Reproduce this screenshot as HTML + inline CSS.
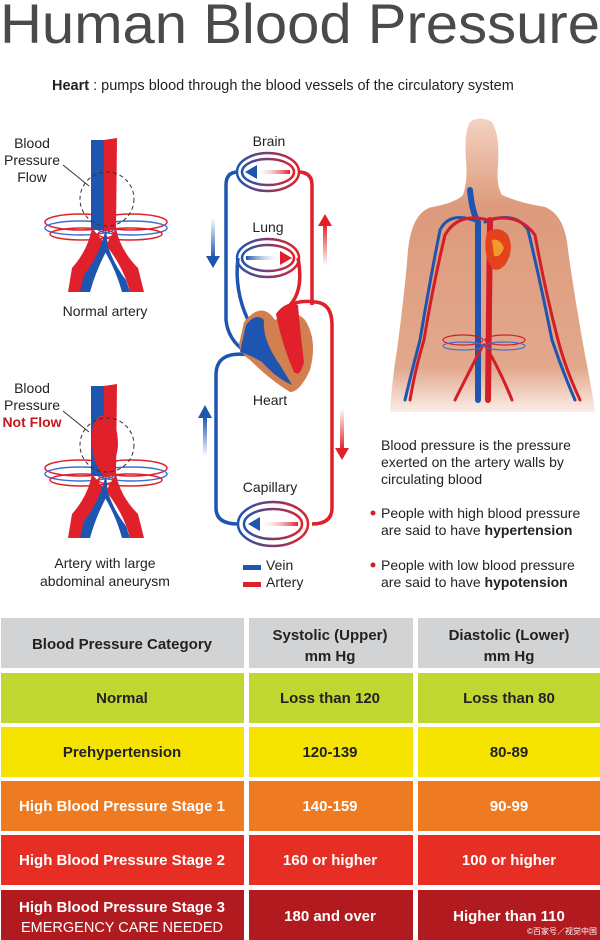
<!DOCTYPE html>
<html><head><meta charset="utf-8"><style>
html,body{margin:0;padding:0;background:#fff;}
svg{display:block;font-family:"Liberation Sans",sans-serif;}
</style></head><body>
<svg width="600" height="940" viewBox="0 0 600 940" xmlns="http://www.w3.org/2000/svg">
<defs>
<linearGradient id="rb" x1="0" x2="1"><stop offset="0" stop-color="#1e55b0"/><stop offset="1" stop-color="#e0212b"/></linearGradient>
<linearGradient id="br" x1="0" x2="1"><stop offset="0" stop-color="#e0212b"/><stop offset="1" stop-color="#1e55b0"/></linearGradient>
<linearGradient id="av" x1="0" x2="1"><stop offset="0" stop-color="#1e55b0"/><stop offset="1" stop-color="#fff" stop-opacity="0"/></linearGradient>
<linearGradient id="ar" x1="0" x2="1"><stop offset="0" stop-color="#fff" stop-opacity="0"/><stop offset="1" stop-color="#e0212b"/></linearGradient>
<linearGradient id="vd" x1="0" y1="0" x2="0" y2="1"><stop offset="0" stop-color="#fff"/><stop offset="1" stop-color="#1e55b0"/></linearGradient>
<linearGradient id="vu" x1="0" y1="1" x2="0" y2="0"><stop offset="0" stop-color="#fff"/><stop offset="1" stop-color="#1e55b0"/></linearGradient>
<linearGradient id="ru" x1="0" y1="1" x2="0" y2="0"><stop offset="0" stop-color="#fff"/><stop offset="1" stop-color="#e0212b"/></linearGradient>
<linearGradient id="rd" x1="0" y1="0" x2="0" y2="1"><stop offset="0" stop-color="#fff"/><stop offset="1" stop-color="#e0212b"/></linearGradient>
<linearGradient id="skin" x1="0" y1="0" x2="0" y2="1"><stop offset="0" stop-color="#f3d3c3"/><stop offset="0.3" stop-color="#dd9a7c"/><stop offset="0.85" stop-color="#e2a88c"/><stop offset="1" stop-color="#fbeee8"/></linearGradient>
</defs>

<text x="0" y="43" font-size="56" fill="#4a4a4a" textLength="600" lengthAdjust="spacingAndGlyphs">Human Blood Pressure</text>
<text x="52" y="90" font-size="14.5" fill="#222"><tspan font-weight="bold">Heart</tspan> : pumps blood through the blood vessels of the circulatory system</text>

<!-- left artery figures -->
<g id="art1">
  <g fill="none" stroke-width="1.5">
    <ellipse cx="80" cy="222" rx="35" ry="8" stroke="#e0212b"/><ellipse cx="80" cy="228" rx="35" ry="7" stroke="#3a6fd0"/><ellipse cx="82" cy="234" rx="32" ry="6" stroke="#e0212b"/>
    <ellipse cx="132" cy="222" rx="35" ry="8" stroke="#e0212b"/><ellipse cx="132" cy="228" rx="35" ry="7" stroke="#3a6fd0"/><ellipse cx="130" cy="234" rx="32" ry="6" stroke="#e0212b"/>
  </g>
  <path d="M91 140 L104 140 L104 230 L91 230 Z" fill="#1e55b0"/>
  <path d="M104 140 L117 138 L116 230 L104 230 Z" fill="#e0212b"/>
  <path d="M92 228 Q88 250 72 268 L68 292 L82 292 Q88 268 106 245 Z" fill="#e0212b"/>
  <path d="M106 228 Q100 255 84 275 L80 292 L90 292 Q96 270 108 248 Z" fill="#1e55b0"/>
  <path d="M116 228 Q120 250 138 268 L144 292 L130 292 Q124 268 106 245 Z" fill="#e0212b"/>
  <path d="M106 240 Q112 262 126 280 L130 292 L122 292 Q116 270 104 250 Z" fill="#1e55b0"/>
  <circle cx="107" cy="199" r="27" fill="none" stroke="#333" stroke-dasharray="4,3"/>
  <line x1="63" y1="165" x2="89" y2="186" stroke="#333"/>
  <text font-size="14" fill="#222" text-anchor="middle"><tspan x="32" y="148">Blood</tspan><tspan x="32" y="165">Pressure</tspan><tspan x="32" y="182">Flow</tspan></text>
  <text x="105" y="316" font-size="14" fill="#222" text-anchor="middle">Normal artery</text>
</g>
<g transform="translate(0,246)">
  <g fill="none" stroke-width="1.5">
    <ellipse cx="80" cy="222" rx="35" ry="8" stroke="#e0212b"/><ellipse cx="80" cy="228" rx="35" ry="7" stroke="#3a6fd0"/><ellipse cx="82" cy="234" rx="32" ry="6" stroke="#e0212b"/>
    <ellipse cx="132" cy="222" rx="35" ry="8" stroke="#e0212b"/><ellipse cx="132" cy="228" rx="35" ry="7" stroke="#3a6fd0"/><ellipse cx="130" cy="234" rx="32" ry="6" stroke="#e0212b"/>
  </g>
  <path d="M91 140 L104 140 L104 230 L91 230 Z" fill="#1e55b0"/>
  <path d="M104 140 L117 138 L116 230 L104 230 Z" fill="#e0212b"/>
  <path d="M100 170 Q90 176 92 200 Q94 220 104 230 Q116 220 118 200 Q118 176 108 170 Z" fill="#e0212b"/>
  <path d="M92 228 Q88 250 72 268 L68 292 L82 292 Q88 268 106 245 Z" fill="#e0212b"/>
  <path d="M106 228 Q100 255 84 275 L80 292 L90 292 Q96 270 108 248 Z" fill="#1e55b0"/>
  <path d="M116 228 Q120 250 138 268 L144 292 L130 292 Q124 268 106 245 Z" fill="#e0212b"/>
  <path d="M106 240 Q112 262 126 280 L130 292 L122 292 Q116 270 104 250 Z" fill="#1e55b0"/>
  <circle cx="107" cy="199" r="27" fill="none" stroke="#333" stroke-dasharray="4,3"/>
  <line x1="63" y1="165" x2="89" y2="186" stroke="#333"/>
  <text font-size="14" text-anchor="middle"><tspan x="32" y="147" fill="#222">Blood</tspan><tspan x="32" y="164" fill="#222">Pressure</tspan><tspan x="32" y="181" fill="#c8161d" font-weight="bold">Not Flow</tspan></text>
</g>
<text font-size="14" fill="#222" text-anchor="middle"><tspan x="105" y="568">Artery with large</tspan><tspan x="105" y="586">abdominal aneurysm</tspan></text>

<!-- circulation diagram -->
<g fill="none" stroke-width="3.5">
  <path d="M238 172 Q226 172 226 185 L226 320 Q228 340 246 352" stroke="#1e55b0"/>
  <path d="M238 258 Q234 290 248 320" stroke="#1e55b0"/>
  <path d="M298 172 Q312 172 312 185 L312 305" stroke="#e0212b"/>
  <path d="M298 258 Q304 290 290 305 Q300 300 315 302 Q332 303 332 325 L332 508 Q332 524 312 524" stroke="#e0212b"/>
  <path d="M250 355 Q216 350 216 375 L216 508 Q216 524 238 524" stroke="#1e55b0"/>
  <g stroke="url(#rb)" stroke-width="2.5">
    <ellipse cx="268" cy="172" rx="31" ry="19"/><ellipse cx="268" cy="172" rx="26" ry="13"/>
    <ellipse cx="268" cy="258" rx="31" ry="19"/><ellipse cx="268" cy="258" rx="26" ry="13"/>
    <ellipse cx="273" cy="524" rx="35" ry="22"/><ellipse cx="273" cy="524" rx="29" ry="15"/>
  </g>
</g>
<rect x="254" y="170" width="36" height="4" fill="url(#ar)"/><path d="M245 172 L257 165 L257 179 Z" fill="#1e55b0"/>
<rect x="246" y="256" width="36" height="4" fill="url(#av)"/><path d="M292 258 L280 251 L280 265 Z" fill="#e0212b"/>
<rect x="258" y="522" width="40" height="4" fill="url(#ar)"/><path d="M248 524 L260 517 L260 531 Z" fill="#1e55b0"/>
<!-- heart -->
<path d="M244 322 Q262 300 275 320 Q295 308 305 320 Q318 340 310 370 Q300 392 290 392 Q270 380 250 360 Q236 350 240 340 Z" fill="#d2804f"/>
<path d="M246 325 Q256 312 264 320 Q262 340 280 365 Q288 378 292 385 Q276 378 262 362 Q250 355 240 352 Z" fill="#1e55b0"/>
<path d="M276 314 Q286 300 298 305 Q300 330 304 362 Q300 378 294 372 Q282 345 276 314 Z" fill="#e0212b"/>
<!-- flow arrows -->
<rect x="211" y="218" width="4" height="40" fill="url(#vd)"/><path d="M206 256 L220 256 L213 268 Z" fill="#1e55b0"/>
<rect x="323" y="224" width="4" height="42" fill="url(#ru)"/><path d="M318 226 L332 226 L325 214 Z" fill="#e0212b"/>
<rect x="203" y="417" width="4" height="40" fill="url(#vu)"/><path d="M198 418 L212 418 L205 405 Z" fill="#1e55b0"/>
<rect x="340" y="408" width="4" height="42" fill="url(#rd)"/><path d="M335 448 L349 448 L342 460 Z" fill="#e0212b"/>
<g font-size="14" fill="#222" text-anchor="middle">
  <text x="269" y="146">Brain</text><text x="268" y="232">Lung</text><text x="270" y="405">Heart</text><text x="270" y="492">Capillary</text>
</g>
<rect x="243" y="565" width="18" height="5" fill="#1e55b0"/><rect x="243" y="582" width="18" height="5" fill="#e0212b"/>
<text x="266" y="570" font-size="14" fill="#222">Vein</text><text x="266" y="587" font-size="14" fill="#222">Artery</text>

<!-- body -->
<g>
  <path d="M470 122 Q480 115 492 122 Q500 135 498 165 Q496 185 502 195 Q520 203 545 207 Q565 215 568 250 Q575 300 585 355 Q592 390 595 412 L390 412 Q392 380 397 350 Q405 290 408 250 Q412 212 432 207 Q455 203 463 195 Q468 180 466 160 Q464 132 470 122 Z" fill="url(#skin)"/>
  <g fill="none" stroke-linecap="round">
    <path d="M470 190 Q472 212 478 222 L478 400" stroke="#1e55b0" stroke-width="6"/>
    <path d="M478 222 Q450 210 440 230 Q430 280 420 340 Q412 370 405 400" stroke="#1e55b0" stroke-width="3"/>
    <path d="M485 222 Q515 210 528 230 Q540 280 552 340 Q562 370 575 400" stroke="#1e55b0" stroke-width="3"/>
    <path d="M490 220 L488 400" stroke="#d21e28" stroke-width="6"/>
    <path d="M488 220 Q458 212 445 235 Q432 290 424 340 Q415 370 410 400" stroke="#d21e28" stroke-width="3"/>
    <path d="M488 220 Q518 212 535 235 Q545 290 558 340 Q566 370 580 400" stroke="#d21e28" stroke-width="3"/>
    <path d="M483 345 Q470 370 455 400 M485 345 Q500 370 512 400" stroke="#d21e28" stroke-width="3"/>
    <g stroke="#d21e28" stroke-width="1.2"><ellipse cx="463" cy="340" rx="20" ry="5"/><ellipse cx="505" cy="340" rx="20" ry="5"/></g>
    <g stroke="#3a6fd0" stroke-width="1.2"><ellipse cx="463" cy="346" rx="20" ry="4"/><ellipse cx="505" cy="346" rx="20" ry="4"/></g>
  </g>
  <path d="M487 232 Q500 225 508 235 Q515 250 505 265 Q497 273 492 268 Q482 255 487 232 Z" fill="#e4421c"/>
  <path d="M492 240 Q500 238 504 248 Q500 258 494 256 Z" fill="#f29a2b"/>
</g>

<g font-size="14" fill="#222">
  <text x="381" y="450">Blood pressure is the pressure</text>
  <text x="381" y="467">exerted on the artery walls by</text>
  <text x="381" y="484">circulating blood</text>
  <text x="381" y="518">People with high blood pressure</text>
  <text x="381" y="535">are said to have <tspan font-weight="bold">hypertension</tspan></text>
  <text x="381" y="570">People with low blood pressure</text>
  <text x="381" y="587">are said to have <tspan font-weight="bold">hypotension</tspan></text>
</g>
<circle cx="373" cy="513" r="2.5" fill="#d21e28"/><circle cx="373" cy="565" r="2.5" fill="#d21e28"/>

<!-- table -->
<g>
  <rect x="1" y="618" width="243" height="50" fill="#d1d3d4"/><rect x="249" y="618" width="164" height="50" fill="#d1d3d4"/><rect x="418" y="618" width="182" height="50" fill="#d1d3d4"/>
  <rect x="1" y="673" width="243" height="50" fill="#bfd730"/><rect x="249" y="673" width="164" height="50" fill="#bfd730"/><rect x="418" y="673" width="182" height="50" fill="#bfd730"/>
  <rect x="1" y="727" width="243" height="50" fill="#f6e400"/><rect x="249" y="727" width="164" height="50" fill="#f6e400"/><rect x="418" y="727" width="182" height="50" fill="#f6e400"/>
  <rect x="1" y="781" width="243" height="50" fill="#ee7b22"/><rect x="249" y="781" width="164" height="50" fill="#ee7b22"/><rect x="418" y="781" width="182" height="50" fill="#ee7b22"/>
  <rect x="1" y="835" width="243" height="50" fill="#e62e25"/><rect x="249" y="835" width="164" height="50" fill="#e62e25"/><rect x="418" y="835" width="182" height="50" fill="#e62e25"/>
  <rect x="1" y="890" width="243" height="50" fill="#b11b20"/><rect x="249" y="890" width="164" height="50" fill="#b11b20"/><rect x="418" y="890" width="182" height="50" fill="#b11b20"/>
</g>
<g font-size="15" font-weight="bold" text-anchor="middle" fill="#222">
  <text x="122" y="649">Blood Pressure Category</text>
  <text x="330" y="640">Systolic (Upper)</text><text x="330" y="661">mm Hg</text>
  <text x="509" y="640">Diastolic (Lower)</text><text x="509" y="661">mm Hg</text>
  <text x="122" y="703">Normal</text><text x="330" y="703">Loss than 120</text><text x="509" y="703">Loss than 80</text>
  <text x="122" y="757">Prehypertension</text><text x="330" y="757">120-139</text><text x="509" y="757">80-89</text>
</g>
<g font-size="15" font-weight="bold" text-anchor="middle" fill="#fff">
  <text x="122" y="811">High Blood Pressure Stage 1</text><text x="330" y="811">140-159</text><text x="509" y="811">90-99</text>
  <text x="122" y="865">High Blood Pressure Stage 2</text><text x="330" y="865">160 or higher</text><text x="509" y="865">100 or higher</text>
  <text x="122" y="912">High Blood Pressure Stage 3</text><text x="330" y="921">180 and over</text><text x="509" y="921">Higher than 110</text>
</g>
<text x="122" y="932" font-size="14.5" fill="#fff" text-anchor="middle">EMERGENCY CARE NEEDED</text>
<text x="597" y="934" font-size="8" fill="#fff" text-anchor="end" font-family="Liberation Sans, Noto Sans CJK SC, sans-serif">©百家号／视觉中国</text>
</svg>
</body></html>
